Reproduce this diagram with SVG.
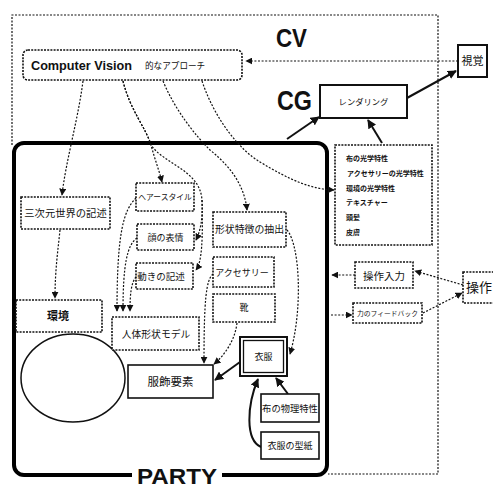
<svg xmlns="http://www.w3.org/2000/svg" width="493" height="489" viewBox="0 0 493 489">
<defs>
<style>
.d{fill:#fff;stroke:#111;stroke-width:1.6;stroke-dasharray:2,1.2}
.s{fill:#fff;stroke:#111;stroke-width:1.6}
.c{fill:none;stroke:#111;stroke-width:1.2;stroke-dasharray:2,1.6}
.l{fill:none;stroke:#111;stroke-width:2}
.j{font-family:"Noto Sans CJK JP","Noto Sans",sans-serif;fill:#111}
.b{font-family:"Liberation Sans",Arial,sans-serif;font-weight:bold;fill:#111}
</style>
<marker id="a" viewBox="0 0 10 10" refX="9" refY="5" markerWidth="7" markerHeight="7" markerUnits="userSpaceOnUse" orient="auto"><path d="M0,0 L10,5 L0,10 z" fill="#111"/></marker>
<marker id="A" viewBox="0 0 10 10" refX="9" refY="5" markerWidth="9" markerHeight="9" markerUnits="userSpaceOnUse" orient="auto"><path d="M0,0 L10,5 L0,10 z" fill="#111"/></marker>
</defs>
<rect width="493" height="489" fill="#fff"/>
<path d="M12,145 V15 H438 V474 H328" fill="none" stroke="#111" stroke-width="1.2" stroke-dasharray="2,1.5"/>
<g id="party">
<rect x="14" y="143" width="313" height="332" rx="10" fill="none" stroke="#000" stroke-width="4"/>
<rect x="132" y="466" width="90" height="23" fill="#fff"/>
<text class="b" x="137" y="484" font-size="22" textLength="80" lengthAdjust="spacingAndGlyphs">PARTY</text>
</g>
<g id="labels">
<text class="b" x="276" y="47" font-size="26" textLength="31" lengthAdjust="spacingAndGlyphs">CV</text>
<text class="b" x="277" y="110" font-size="27" textLength="35" lengthAdjust="spacingAndGlyphs">CG</text>
</g>
<g id="connectors">
<path class="c" d="M458,61 H246" marker-end="url(#a)"/>
<path class="c" d="M83,81 C78,120 66,160 62,195" marker-end="url(#a)"/>
<path class="c" d="M123,81 C130,110 146,128 151,145 C155,160 159,170 162,182" marker-end="url(#a)"/>
<path class="c" d="M123,81 C130,110 146,128 151,145 C165,165 200,170 202,200 C203,220 200,232 196,240" marker-end="url(#a)"/>
<path class="c" d="M202,200 C203,240 202,262 196,270" marker-end="url(#a)"/>
<path class="c" d="M163,81 C175,110 195,135 210,150 C235,170 245,190 247,210" marker-end="url(#a)"/>
<path class="c" d="M202,81 C215,120 240,150 260,162 C290,180 310,189 334,190" marker-end="url(#a)"/>
<path class="c" d="M60,230 C58,250 55,270 55,298" marker-end="url(#a)"/>
<path class="c" d="M136,198 C124,210 117,230 117,311" marker-end="url(#a)"/>
<path class="c" d="M137,238 C127,245 123,265 123,311" marker-end="url(#a)"/>
<path class="c" d="M136,277 C131,283 130,295 130,311" marker-end="url(#a)"/>
<path class="c" d="M213,274 C206,280 204,300 204,363" marker-end="url(#a)"/>
<path class="c" d="M237,323 C235,340 225,355 214,364" marker-end="url(#a)"/>
<path class="c" d="M287,230 C300,245 303,310 290,354" marker-end="url(#a)"/>
<path class="c" d="M355,275 H332" marker-end="url(#a)"/>
<path class="c" d="M463,285 L415,271" marker-end="url(#a)"/>
<path class="c" d="M423,313 L462,293" marker-end="url(#a)"/>
<path class="c" d="M331,315 H352" marker-end="url(#a)"/>
<path class="l" d="M287,139 L319,117" marker-end="url(#A)"/>
<path class="l" d="M382,143 L368,120" marker-end="url(#A)"/>
<path class="l" d="M407,98 L456,71" marker-end="url(#A)"/>
<path class="l" d="M240,362 L215,380" marker-end="url(#A)"/>
<path class="l" d="M288,394 L276,378" marker-end="url(#A)"/>
<path class="l" d="M261,447 C245,440 247,405 258,379" marker-end="url(#A)"/>
</g>
<g id="cv">
<rect class="d" x="23" y="50" width="219" height="30" rx="5"/>
<text class="b" x="31" y="70" font-size="12.5" textLength="101" lengthAdjust="spacingAndGlyphs">Computer Vision</text>
<text class="j" x="145" y="69" font-size="8.6">的なアプローチ</text>
</g>
<g id="shikaku">
<rect x="458" y="45" width="29" height="32" fill="#fff" stroke="#111" stroke-width="2"/>
<text class="j" x="472.5" y="65" font-size="11" text-anchor="middle">視覚</text>
</g>
<g id="rendering">
<rect x="320" y="85" width="87" height="33" fill="#fff" stroke="#111" stroke-width="2"/>
<text class="j" x="363.5" y="105" font-size="8.3" text-anchor="middle">レンダリング</text>
</g>
<g id="list">
<rect class="d" x="335" y="145" width="97" height="100"/>
<text class="j" font-size="7" font-weight="bold"><tspan x="346" y="161">布の光学特性</tspan><tspan x="347" y="176">アクセサリーの光学特性</tspan><tspan x="346" y="191">環境の光学特性</tspan><tspan x="346" y="205">テキスチャー</tspan><tspan x="346" y="220">頭髪</tspan><tspan x="346" y="235">皮膚</tspan></text>
</g>
<g id="sanjigen">
<rect class="d" x="21" y="197" width="89" height="32"/>
<text class="j" x="65.5" y="217" font-size="10.3" text-anchor="middle">三次元世界の記述</text>
</g>
<g id="kankyo">
<rect class="d" x="16" y="300" width="86" height="32"/>
<text class="j" x="58" y="320" font-size="11" font-weight="bold" text-anchor="middle">環境</text>
</g>
<g id="ellipse"><ellipse cx="73" cy="378" rx="52" ry="44" fill="none" stroke="#111" stroke-width="1.5"/></g>
<g id="hair">
<rect class="d" x="136" y="183" width="58" height="28"/>
<text class="j" x="165" y="200" font-size="7.8" text-anchor="middle">ヘアースタイル</text>
</g>
<g id="face">
<rect class="d" x="137" y="224" width="57" height="26"/>
<text class="j" x="165.5" y="241" font-size="9" text-anchor="middle">顔の表情</text>
</g>
<g id="motion">
<rect class="d" x="136" y="263" width="57" height="26"/>
<text class="j" x="161" y="280" font-size="9.5" text-anchor="middle">動きの記述</text>
</g>
<g id="body">
<rect class="d" x="112" y="317" width="87" height="33"/>
<text class="j" x="156" y="338" font-size="9.8" text-anchor="middle">人体形状モデル</text>
</g>
<g id="shape">
<rect class="d" x="213" y="212" width="73" height="35"/>
<text class="j" x="249.5" y="233" font-size="9.9" text-anchor="middle">形状特徴の抽出</text>
</g>
<g id="accessory">
<rect class="d" x="213" y="257" width="61" height="30"/>
<text class="j" x="242" y="276" font-size="9" text-anchor="middle">アクセサリー</text>
</g>
<g id="shoes">
<rect class="d" x="213" y="294" width="62" height="28"/>
<text class="j" x="244" y="311" font-size="9" text-anchor="middle">靴</text>
</g>
<g id="clothes">
<rect x="240" y="337" width="47" height="39" fill="#fff" stroke="#111" stroke-width="2"/>
<rect x="243.5" y="340.5" width="40" height="32" fill="none" stroke="#111" stroke-width="1.3"/>
<text class="j" x="263.5" y="360" font-size="9" text-anchor="middle">衣服</text>
</g>
<g id="fukushoku">
<rect class="s" x="128" y="365" width="85" height="33"/>
<text class="j" x="170.5" y="386" font-size="11.5" text-anchor="middle">服飾要素</text>
</g>
<g id="nuno">
<rect class="s" x="261" y="394" width="58" height="28"/>
<text class="j" x="290" y="412" font-size="9.3" text-anchor="middle">布の物理特性</text>
</g>
<g id="katagami">
<rect class="s" x="261" y="432" width="58" height="27"/>
<text class="j" x="290" y="449" font-size="9" text-anchor="middle">衣服の型紙</text>
</g>
<g id="sousanyuryoku">
<rect class="d" x="355" y="262" width="58" height="26"/>
<text class="j" x="384" y="280" font-size="10.5" text-anchor="middle">操作入力</text>
</g>
<g id="feedback">
<rect class="d" x="353" y="303" width="69" height="20"/>
<text class="j" x="387.5" y="316" font-size="6.8" text-anchor="middle">力のフィードバック</text>
</g>
<g id="sousa">
<rect class="d" x="463" y="272" width="34" height="31"/>
<text class="j" x="466" y="292" font-size="13">操作</text>
</g>
</svg>
